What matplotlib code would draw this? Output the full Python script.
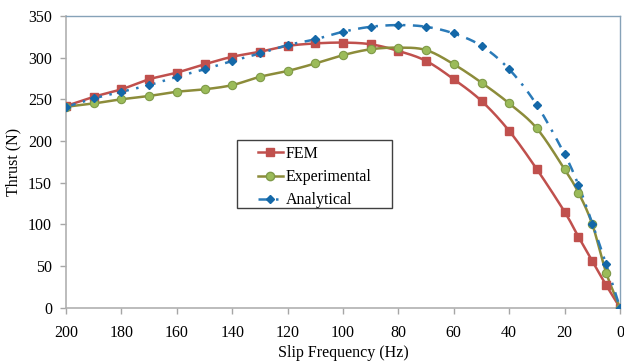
import numpy as np
import matplotlib
matplotlib.use("Agg")
import matplotlib.pyplot as plt
from matplotlib.patches import Rectangle

slip_freq = [200, 190, 180, 170, 160, 150, 140, 130, 120, 110, 100, 90, 80, 70, 60, 50, 40, 30, 20, 15, 10, 5, 0]
fem = [242, 253, 262, 274, 282, 292, 301, 307, 314, 317, 318, 316, 308, 296, 274, 248, 212, 166, 115, 85, 56, 27, 0]
experimental = [241, 245, 250, 254, 259, 262, 267, 277, 284, 293, 303, 310, 312, 309, 292, 270, 245, 215, 166, 138, 100, 42, 0]
analytical = [241, 251, 259, 267, 277, 286, 296, 305, 315, 322, 331, 337, 339, 337, 329, 314, 286, 243, 184, 147, 101, 52, 0]
x_ticks = [200, 180, 160, 140, 120, 100, 80, 60, 40, 20, 0]
y_ticks = [0, 50, 100, 150, 200, 250, 300, 350]


def smooth(xs, ys, n=20):
    xs = np.asarray(xs, float)
    ys = np.asarray(ys, float)
    px = np.concatenate([[2 * xs[0] - xs[1]], xs, [2 * xs[-1] - xs[-2]]])
    py = np.concatenate([[2 * ys[0] - ys[1]], ys, [2 * ys[-1] - ys[-2]]])
    ox, oy = [], []
    t = np.linspace(0, 1, n, endpoint=False)
    for i in range(1, len(px) - 2):
        for p, o in ((px, ox), (py, oy)):
            p0, p1, p2, p3 = p[i - 1], p[i], p[i + 1], p[i + 2]
            o.extend(0.5 * ((2 * p1) + (-p0 + p2) * t + (2 * p0 - 5 * p1 + 4 * p2 - p3) * t ** 2
                            + (-p0 + 3 * p1 - 3 * p2 + p3) * t ** 3))
    ox.append(xs[-1]); oy.append(ys[-1])
    return np.array(ox), np.array(oy)


plt.rcParams['font.family'] = ['Liberation Serif', 'DejaVu Serif']
fig = plt.figure(figsize=(6.24, 3.62), dpi=100)
ax = fig.add_axes([0.1058, 0.150, 0.8878, 0.806])

red = '#C0504D'
olive_line = '#8C8C3A'
olive_fill = '#9BBB59'
blue = '#2A7AB8'
blue_m = '#1468A8'
fs = 11.5

sx, sy = smooth(slip_freq, fem)
ax.plot(sx, sy, color=red, lw=1.8, zorder=3)
ax.plot(slip_freq, fem, ls='none', marker='s', ms=5.5, color=red, zorder=4)

sx, sy = smooth(slip_freq, experimental)
ax.plot(sx, sy, color=olive_line, lw=1.8, zorder=3)
ax.plot(slip_freq, experimental, ls='none', marker='o', ms=6, mfc=olive_fill, mec='#7F9A48', mew=0.8, zorder=4)

sx, sy = smooth(slip_freq, analytical)
ax.plot(sx, sy, color=blue, lw=1.8, ls=(0, (4, 3, 1, 3)), zorder=3)
ax.plot(slip_freq, analytical, ls='none', marker='D', ms=4, color=blue_m, zorder=4)

# legend box (drawn separately for Excel-like padding)
x0, x1, y0, y1 = 0.3087, 0.5884, 0.3418, 0.5750
ax.add_patch(Rectangle((x0, y0), x1 - x0, y1 - y0, transform=ax.transAxes,
                       facecolor='white', edgecolor='#404040', lw=1.0, zorder=5))
h1, = ax.plot([], [], color=red, lw=1.8, marker='s', ms=5.5)
h2, = ax.plot([], [], color=olive_line, lw=1.8, marker='o', ms=6, mfc=olive_fill, mec='#7F9A48')
h3, = ax.plot([], [], color=blue, lw=1.8, ls=(0, (4, 3, 1, 3)), marker='D', ms=4, mfc=blue_m, mec=blue_m)
leg = ax.legend([h1, h2, h3], ['FEM', 'Experimental', 'Analytical'],
                loc='center', bbox_to_anchor=((x0 + x1) / 2, (y0 + y1) / 2 - 0.011), frameon=False,
                fontsize=fs, handlelength=1.6, handletextpad=0.15,
                labelspacing=0.45, borderpad=0, borderaxespad=0)
leg.set_zorder(6)

ax.set_xlim(200, 0)
ax.set_ylim(0, 350)
ax.set_xticks(x_ticks)
ax.set_yticks(y_ticks)
ax.tick_params(axis='both', labelsize=fs, color='#A6A6A6', length=4, width=1, direction='out')
ax.tick_params(axis='x', pad=8.5)
ax.tick_params(axis='y', pad=6)
for s in ('left', 'bottom'):
    ax.spines[s].set_color('#B0B0B0')
    ax.spines[s].set_linewidth(1.2)
for s in ('top', 'right'):
    ax.spines[s].set_color('#86A2B8')
    ax.spines[s].set_linewidth(1.0)

ax.set_xlabel('Slip Frequency (Hz)', fontsize=fs, labelpad=2.5)
ax.set_ylabel('Thrust (N)', fontsize=fs, labelpad=5)

fig.savefig('out.png', dpi=100)
